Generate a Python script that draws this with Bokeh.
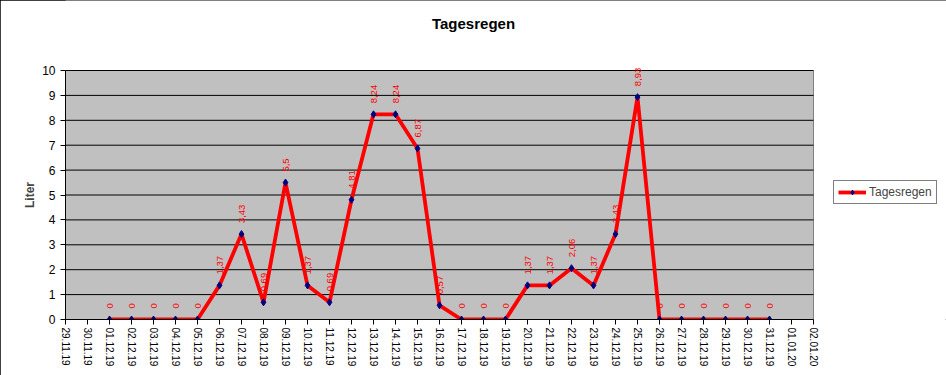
import math
import pandas as pd
from bokeh.plotting import figure
from bokeh.models import (Range1d, FixedTicker, DaysTicker, DatetimeTickFormatter,
                          Legend, LegendItem, ColumnDataSource, Label)
from bokeh.embed import file_html
from bokeh.resources import INLINE
from bokeh.core.properties import value

# ---- data ----
chart_title = "Tagesregen"
series_name = "Tagesregen"
y_title = "Liter"
axis_start = "29.11.19"
axis_end = "02.01.20"
dates = ["01.12.19", "02.12.19", "03.12.19", "04.12.19", "05.12.19", "06.12.19",
         "07.12.19", "08.12.19", "09.12.19", "10.12.19", "11.12.19", "12.12.19",
         "13.12.19", "14.12.19", "15.12.19", "16.12.19", "17.12.19", "18.12.19",
         "19.12.19", "20.12.19", "21.12.19", "22.12.19", "23.12.19", "24.12.19",
         "25.12.19", "26.12.19", "27.12.19", "28.12.19", "29.12.19", "30.12.19",
         "31.12.19"]
rain = [0, 0, 0, 0, 0, 1.37, 3.43, 0.69, 5.5, 1.37, 0.69, 4.81, 8.24, 8.24, 6.87,
        0.57, 0, 0, 0, 1.37, 1.37, 2.06, 1.37, 3.43, 8.93, 0, 0, 0, 0, 0, 0]
y_ticks = [0, 1, 2, 3, 4, 5, 6, 7, 8, 9, 10]

FONT = "Liberation Sans"
W, H = 946, 375
LEFT, BOTTOM = 65, 56           # border sizes
PLOT_R, PLOT_T = 813, 70        # right / top edge of the grey plot area (px)

d0 = pd.to_datetime(axis_start, format="%d.%m.%y")
d1 = pd.to_datetime(axis_end, format="%d.%m.%y")
x = pd.to_datetime(dates, format="%d.%m.%y")
labels = [f"{v:g}".replace(".", ",") for v in rain]
src = ColumnDataSource(dict(x=x, y=rain, lbl=labels))

# frame covers everything right of the y axis and above the x axis; the grey
# plot area is drawn as a quad inside it
frame_w = W - LEFT
plot_w = PLOT_R - LEFT
x_end = d0 + (d1 - d0) * (frame_w / plot_w)
frame_h = H - BOTTOM
plot_h = frame_h - PLOT_T
y_end = y_ticks[-1] * frame_h / plot_h

p = figure(width=W, height=H, x_axis_type="datetime",
           x_range=Range1d(d0, x_end), y_range=Range1d(y_ticks[0], y_end),
           output_backend="svg", toolbar_location=None,
           min_border_left=LEFT, min_border_right=0,
           min_border_top=0, min_border_bottom=BOTTOM)
p.styles = {"outline": "1px solid black", "outline-offset": "-1px"}
p.background_fill_color = "white"
p.border_fill_color = "white"
p.outline_line_color = None
p.xgrid.visible = False
p.ygrid.visible = False

# grey plot area and grid lines
p.quad(left=[d0], right=[d1], bottom=[y_ticks[0]], top=[y_ticks[-1]],
       fill_color="#C0C0C0", line_color="#808080", line_width=1)
p.segment(x0=[d0] * (len(y_ticks) - 1), x1=[d1] * (len(y_ticks) - 1),
          y0=y_ticks[1:], y1=y_ticks[1:], line_color="black", line_width=1)

# y axis (the label is padded with no-break spaces so that it is centred on
# the grey plot area rather than on the taller frame)
p.yaxis.bounds = (y_ticks[0], y_ticks[-1])
p.yaxis.ticker = FixedTicker(ticks=y_ticks)
p.yaxis.major_label_text_font = FONT
p.yaxis.major_label_text_font_size = "12px"
p.yaxis.major_label_text_color = "black"
p.yaxis.axis_line_color = "black"
p.yaxis.major_tick_line_color = "black"
p.yaxis.major_tick_out = 5
p.yaxis.major_tick_in = 0
p.yaxis.minor_tick_line_color = None
p.yaxis.axis_label = y_title + "\u00a0" * 21
p.yaxis.axis_label_text_font = FONT
p.yaxis.axis_label_text_font_size = "12px"
p.yaxis.axis_label_text_font_style = "bold"
p.yaxis.axis_label_standoff = 2

# x axis
p.xaxis.bounds = (d0, d1)
p.xaxis.ticker = DaysTicker(days=list(range(1, 32)))
fmt = "%d.%m.%y"
p.xaxis.formatter = DatetimeTickFormatter(days=fmt, months=fmt, years=fmt, hours=fmt,
                                          hourmin=fmt, minutes=fmt, context=None)
p.xaxis.major_label_orientation = -math.pi / 2
p.xaxis.major_label_text_font = FONT
p.xaxis.major_label_text_font_size = "10px"
p.xaxis.major_label_text_color = "black"
p.xaxis.axis_line_color = "black"
p.xaxis.major_tick_line_color = "black"
p.xaxis.major_tick_out = 5
p.xaxis.major_tick_in = 0
p.xaxis.minor_tick_line_color = None
p.xaxis.major_label_standoff = 3

# series
line_r = p.line("x", "y", source=src, line_color="red", line_width=3.8)
pts_r = p.scatter("x", "y", source=src, marker="diamond", size=7,
                  fill_color="#000080", line_color="#000080")
p.text("x", "y", text="lbl", source=src, angle=math.pi / 2, text_align="left",
       text_baseline="middle", y_offset=-11, text_color="red",
       text_font=value(FONT), text_font_size="9.5px")

# title (screen units relative to the frame: x from left, y from bottom)
p.add_layout(Label(x=W / 2 - LEFT, y=frame_h - 23, x_units="screen", y_units="screen",
                   text=chart_title, text_align="center", text_baseline="middle",
                   text_font=FONT, text_font_size="15px", text_font_style="bold",
                   text_color="black"))

legend = Legend(items=[LegendItem(label=series_name, renderers=[line_r, pts_r])],
                location=(833 - LEFT, frame_h - 204), margin=0, padding=4, spacing=0,
                glyph_width=28, glyph_height=12, label_height=12, label_standoff=3,
                label_text_font=FONT, label_text_font_size="12px",
                border_line_color="black", border_line_width=1,
                background_fill_color="white", background_fill_alpha=1)
p.add_layout(legend, "center")

open("out.html", "w").write(file_html(p, INLINE))
